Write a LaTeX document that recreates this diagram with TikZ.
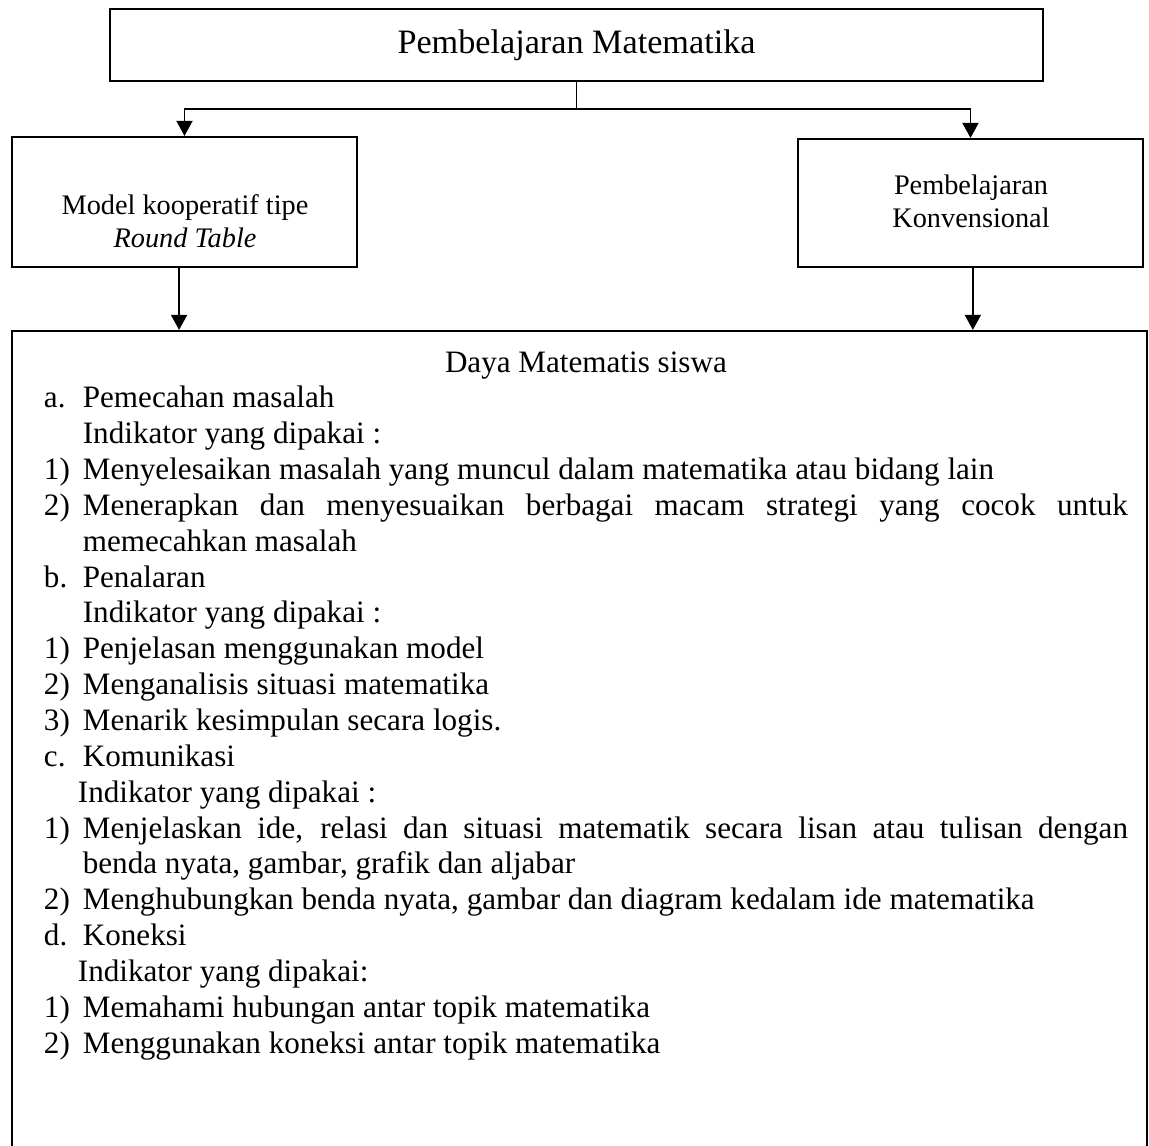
\documentclass[tikz,border=0pt]{standalone}
\usepackage{fontspec}
\setmainfont{Liberation Serif}
\usetikzlibrary{arrows.meta,fit}
\newlength\lebarlabel \setlength\lebarlabel{16.5pt}
\newcommand{\butir}[2]{\par\noindent\hangindent=\lebarlabel\hangafter=1\makebox[\lebarlabel][l]{#1}#2}
\newcommand{\indikator}[2]{\par\noindent\hspace*{#1}#2}
\begin{document}
\begin{tikzpicture}[x=0.424pt,y=-0.424pt,line width=0.8pt,
  kotak/.style={draw,line width=0.9pt,inner sep=0pt},
  teks/.style={align=center,font=\fontsize{12}{14}\selectfont},
  panah/.style={-{Triangle[length=6.4pt,width=6.8pt]}}]
\useasboundingbox (0,0) rectangle (1149,1146);
\clip (0,0) rectangle (1149,1146);
\node[kotak,fit={(110,9) (1043,81)}] (judul) {};
\node[font=\fontsize{14.5}{16}\selectfont] (judulT) at (judul.center) {Pembelajaran Matematika};
\node[kotak,fit={(12,137) (357,267)}] (coop) {};
\node[teks] (coopT) at (185,221) {Model kooperatif tipe\\\textit{Round Table}};
\node[kotak,fit={(798,139) (1143,267)}] (konv) {};
\node[teks] (konvT) at (971,201) {Pembelajaran\\Konvensional};
\node[kotak,fit={(12,331) (1147,1180)}] (daya) {};
\path (judul.south) ++(0,27) coordinate (cab);
\draw (judul.south) -- (cab);
\foreach \b/\s in {coop/-2.3pt,konv/1pt}{\draw[panah] (cab) -| (\b.north);\draw[panah] ([xshift=\s]\b.south) -- ([xshift=\s]\b.south |- daya.north);}
\node[anchor=north west,inner sep=0pt,text width=459.6pt,align=justify,font=\fontsize{13.2}{15.2}\selectfont] (isi) at (43,346) {%
\hyphenpenalty=10000 \exhyphenpenalty=10000
{\centering\strut Daya Matematis siswa\par}
\butir{a.}{Pemecahan masalah}
\indikator{\lebarlabel}{Indikator yang dipakai :}
\butir{1)}{Menyelesaikan masalah yang muncul dalam matematika atau bidang lain}
\butir{2)}{Menerapkan dan menyesuaikan berbagai macam strategi yang cocok untuk\linebreak memecahkan masalah}
\butir{b.}{Penalaran}
\indikator{\lebarlabel}{Indikator yang dipakai :}
\butir{1)}{Penjelasan menggunakan model}
\butir{2)}{Menganalisis situasi matematika}
\butir{3)}{Menarik kesimpulan secara logis.}
\butir{c.}{Komunikasi}
\indikator{14.4pt}{Indikator yang dipakai :}
\butir{1)}{Menjelaskan ide, relasi dan situasi matematik secara lisan atau tulisan dengan\linebreak benda nyata, gambar, grafik dan aljabar}
\butir{2)}{Menghubungkan benda nyata, gambar dan diagram kedalam ide matematika}
\butir{d.}{Koneksi}
\indikator{14.4pt}{Indikator yang dipakai:}
\butir{1)}{Memahami hubungan antar topik matematika}
\butir{2)}{Menggunakan koneksi antar topik matematika}\par};
\end{tikzpicture}
\end{document}
